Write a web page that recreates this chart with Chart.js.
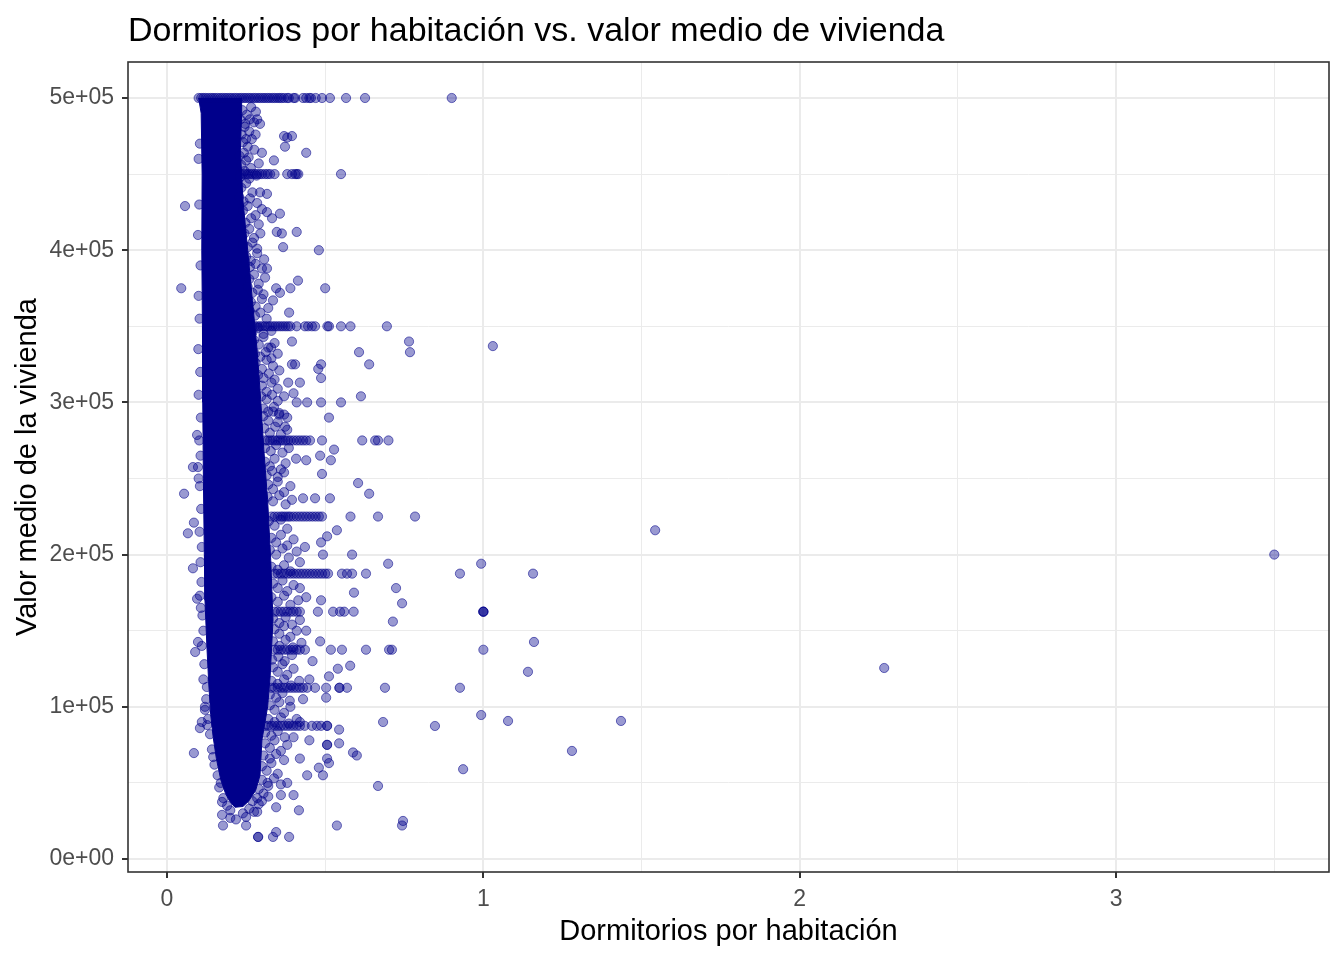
<!DOCTYPE html>
<html lang="es">
<head>
<meta charset="utf-8">
<title>Dormitorios por habitación vs. valor medio de vivienda</title>
<script src="https://cdn.jsdelivr.net/npm/chart.js@4.4.1/dist/chart.umd.min.js"></script>
<style>
  html, body { margin: 0; padding: 0; background: #fff; }
  canvas { display: block; }
</style>
</head>
<body>
<canvas id="chart" width="1344" height="960"></canvas>
<script>
// Axis ticks (major labelled, minor only gridlines)
const xTicks = [0, 1, 2, 3];
const xTickLabels = ['0', '1', '2', '3'];
const xGrid = [0, 0.5, 1, 1.5, 2, 2.5, 3, 3.5];
const yTicks = [0, 100000, 200000, 300000, 400000, 500000];
const yTickLabels = ['0e+00', '1e+05', '2e+05', '3e+05', '4e+05', '5e+05'];
const yGrid = [0, 50000, 100000, 150000, 200000, 250000, 300000, 350000, 400000, 450000, 500000];

// Outline of the saturated core of the cloud (points overlap into solid navy there)
const coreX = [0.100, 0.108, 0.111, 0.110, 0.112, 0.113, 0.115, 0.118, 0.120, 0.126, 0.132, 0.138, 0.146, 0.156, 0.170, 0.185, 0.198, 0.215,
               0.240, 0.258, 0.280, 0.294, 0.300, 0.318, 0.326, 0.335, 0.328, 0.318, 0.306, 0.296, 0.285, 0.270, 0.255, 0.240, 0.232, 0.236, 0.236];
const coreY = [500000, 490000, 450000, 400000, 350000, 300000, 250000, 200000, 170000, 140000, 115000, 95000, 80000, 66000, 52000, 43000, 38000, 34000,
               34500, 38000, 45000, 55000, 78000, 100000, 120000, 157000, 196000, 236000, 269000, 302000, 334000, 367000, 400000, 433000, 466000, 490000, 500000];

// Capped values at 500000
const capX = [0.100, 0.108, 0.115, 0.122, 0.130, 0.138, 0.145, 0.152, 0.160, 0.168, 0.175, 0.183, 0.190, 0.198, 0.205, 0.213, 0.220, 0.228,
              0.235, 0.243, 0.250, 0.258, 0.265, 0.273, 0.280, 0.288, 0.295, 0.303, 0.310, 0.318, 0.325, 0.333, 0.340, 0.348, 0.355, 0.362,
              0.370, 0.380, 0.385, 0.400, 0.405, 0.430, 0.440, 0.450, 0.455, 0.470, 0.490, 0.515, 0.566, 0.626, 0.900];

// Rows of repeated round values
const stripLevels = [450000, 350000, 275000, 225000, 187500, 162500, 137500, 112500, 87500];
const stripX = [
  [0.232, 0.240, 0.248, 0.255, 0.262, 0.270, 0.278, 0.285, 0.293, 0.300, 0.310, 0.318, 0.326, 0.340, 0.380, 0.395, 0.405, 0.410, 0.415, 0.550],
  [0.270, 0.278, 0.286, 0.294, 0.302, 0.310, 0.318, 0.326, 0.334, 0.342, 0.350, 0.358, 0.366, 0.374, 0.382, 0.390, 0.410, 0.436, 0.446, 0.458, 0.468, 0.507, 0.512, 0.550, 0.580, 0.695],
  [0.310, 0.318, 0.326, 0.334, 0.342, 0.350, 0.358, 0.366, 0.374, 0.382, 0.390, 0.400, 0.410, 0.420, 0.430, 0.440, 0.452, 0.490, 0.617, 0.658, 0.667, 0.700],
  [0.330, 0.340, 0.350, 0.360, 0.367, 0.375, 0.383, 0.390, 0.400, 0.410, 0.420, 0.430, 0.440, 0.450, 0.460, 0.470, 0.480, 0.490, 0.580, 0.667, 0.784],
  [0.340, 0.350, 0.360, 0.370, 0.380, 0.390, 0.400, 0.410, 0.420, 0.430, 0.440, 0.450, 0.460, 0.470, 0.480, 0.490, 0.500, 0.509, 0.553, 0.569, 0.585, 0.629, 0.926, 1.157],
  [0.340, 0.350, 0.360, 0.370, 0.380, 0.390, 0.400, 0.410, 0.420, 0.477, 0.525, 0.547, 0.560, 0.590, 1.000, 1.000, 1.000],
  [0.340, 0.350, 0.360, 0.370, 0.380, 0.390, 0.400, 0.410, 0.420, 0.436, 0.518, 0.553, 0.629, 0.702, 0.711, 1.000],
  [0.330, 0.340, 0.350, 0.360, 0.370, 0.380, 0.390, 0.400, 0.410, 0.420, 0.430, 0.443, 0.468, 0.503, 0.545, 0.545, 0.569, 0.689, 0.926],
  [0.310, 0.320, 0.330, 0.340, 0.350, 0.360, 0.370, 0.380, 0.390, 0.400, 0.410, 0.420, 0.435, 0.458, 0.474, 0.487, 0.506, 0.506]
];

// Ragged fringe right and left of the core
const fringe = [
  [0.245, 481000], [0.260, 478000], [0.275, 484000], [0.240, 471000], [0.255, 468000], [0.268, 473000],
  [0.235, 456000], [0.250, 459000], [0.265, 454000], [0.290, 457000], [0.235, 441000], [0.250, 444000], [0.270, 438000],
  [0.240, 426000], [0.255, 429000], [0.280, 423000], [0.300, 427000], [0.245, 411000], [0.260, 414000], [0.275, 408000], [0.295, 411000],
  [0.250, 396000], [0.265, 393000], [0.285, 398000], [0.260, 381000], [0.275, 384000], [0.290, 378000], [0.310, 382000],
  [0.265, 366000], [0.280, 363000], [0.300, 368000], [0.320, 362000], [0.275, 341000], [0.290, 338000], [0.305, 343000], [0.320, 336000], [0.340, 339000],
  [0.280, 326000], [0.300, 322000], [0.315, 328000], [0.335, 324000], [0.355, 321000], [0.300, 311000], [0.315, 307000], [0.330, 313000], [0.350, 309000],
  [0.305, 291000], [0.320, 288000], [0.335, 294000], [0.350, 287000], [0.370, 292000], [0.310, 261000], [0.325, 258000], [0.340, 263000], [0.360, 256000], [0.375, 260000],
  [0.320, 246000], [0.335, 243000], [0.350, 248000], [0.370, 241000], [0.390, 245000], [0.330, 211000], [0.345, 208000], [0.360, 213000], [0.380, 206000], [0.400, 210000],
  [0.335, 181000], [0.350, 178000], [0.365, 183000], [0.380, 176000], [0.400, 180000], [0.340, 151000], [0.355, 148000], [0.370, 153000], [0.390, 146000], [0.410, 150000],
  [0.335, 126000], [0.350, 123000], [0.365, 128000], [0.380, 121000], [0.400, 125000], [0.325, 101000], [0.340, 98000], [0.355, 103000], [0.370, 96000], [0.390, 100000],
  [0.310, 76000], [0.325, 73000], [0.340, 78000], [0.360, 71000], [0.380, 75000], [0.300, 61000], [0.315, 58000], [0.330, 63000], [0.350, 56000],
  [0.290, 46000], [0.305, 43000], [0.320, 48000], [0.270, 38000], [0.290, 36000],
  [0.238, 492000], [0.252, 489000], [0.266, 494000], [0.281, 491000], [0.232, 486000], [0.247, 483000], [0.262, 486000], [0.236, 476000], [0.250, 473000], [0.280, 476000],
  [0.229, 462000], [0.243, 464000], [0.258, 461000], [0.276, 466000], [0.231, 448000], [0.245, 452000], [0.260, 447000], [0.283, 449000],
  [0.228, 435000], [0.242, 432000], [0.262, 434000], [0.285, 431000], [0.232, 420000], [0.248, 418000], [0.266, 421000], [0.290, 417000],
  [0.240, 404000], [0.255, 402000], [0.270, 405000], [0.285, 401000], [0.248, 392000], [0.262, 389000], [0.280, 391000], [0.300, 388000],
  [0.255, 376000], [0.270, 372000], [0.287, 374000], [0.305, 371000], [0.262, 360000], [0.278, 357000], [0.295, 359000], [0.315, 355000],
  [0.270, 346000], [0.288, 349000], [0.305, 345000], [0.330, 347000], [0.278, 332000], [0.295, 330000], [0.312, 333000], [0.330, 329000], [0.350, 332000],
  [0.288, 318000], [0.305, 316000], [0.322, 319000], [0.340, 315000], [0.298, 304000], [0.315, 302000], [0.332, 305000], [0.350, 301000], [0.370, 304000],
  [0.305, 296000], [0.320, 294000], [0.338, 297000], [0.355, 293000], [0.308, 283000], [0.325, 280000], [0.342, 284000], [0.360, 279000], [0.380, 282000],
  [0.310, 270000], [0.328, 268000], [0.345, 272000], [0.365, 267000], [0.385, 270000], [0.315, 252000], [0.332, 255000], [0.350, 251000], [0.370, 254000],
  [0.318, 238000], [0.335, 235000], [0.355, 239000], [0.375, 233000], [0.395, 236000], [0.322, 222000], [0.340, 219000], [0.360, 223000], [0.380, 217000],
  [0.325, 203000], [0.345, 200000], [0.365, 204000], [0.385, 198000], [0.410, 202000], [0.330, 192000], [0.350, 190000], [0.370, 193000], [0.390, 189000],
  [0.330, 172000], [0.350, 169000], [0.370, 173000], [0.390, 167000], [0.415, 170000], [0.335, 158000], [0.355, 155000], [0.375, 159000], [0.395, 154000], [0.420, 157000],
  [0.335, 143000], [0.355, 140000], [0.375, 144000], [0.398, 139000], [0.425, 142000], [0.332, 131000], [0.352, 133000], [0.372, 130000], [0.395, 134000],
  [0.330, 117000], [0.350, 115000], [0.370, 118000], [0.392, 114000], [0.418, 117000], [0.325, 108000], [0.345, 106000], [0.365, 109000], [0.388, 104000],
  [0.320, 92000], [0.340, 90000], [0.360, 93000], [0.385, 89000], [0.410, 92000], [0.310, 83000], [0.330, 81000], [0.350, 84000], [0.372, 80000],
  [0.305, 68000], [0.325, 66000], [0.345, 69000], [0.370, 65000], [0.300, 52000], [0.318, 50000], [0.338, 53000], [0.360, 49000],
  [0.285, 40000], [0.300, 38000], [0.320, 41000], [0.260, 33000], [0.275, 31000], [0.240, 30000], [0.200, 32000], [0.190, 35000],
  [0.104, 470000], [0.102, 430000], [0.106, 390000], [0.103, 355000], [0.105, 320000], [0.107, 290000], [0.106, 265000], [0.108, 230000],
  [0.110, 205000], [0.109, 182000], [0.112, 160000], [0.115, 150000], [0.118, 128000], [0.124, 105000], [0.130, 92000], [0.136, 82000],
  [0.142, 72000], [0.150, 62000], [0.160, 55000], [0.165, 47000], [0.178, 40000],
  [0.100, 460000], [0.098, 410000], [0.100, 370000], [0.099, 335000], [0.100, 305000], [0.102, 275000], [0.104, 245000], [0.103, 215000],
  [0.106, 195000], [0.107, 165000], [0.110, 140000], [0.115, 118000], [0.120, 100000], [0.127, 88000]
];

// Scattered points away from the core
const outliers = [
  [0.370, 475000], [0.380, 474000], [0.395, 475000], [0.373, 468000], [0.440, 464000], [0.338, 459000], [0.300, 464000], [0.285, 486000], [0.294, 483000],
  [0.316, 437000], [0.294, 438000], [0.316, 425000], [0.357, 424000], [0.332, 421000], [0.410, 412000], [0.347, 412000], [0.363, 411000], [0.367, 402000],
  [0.480, 400000], [0.307, 394000], [0.316, 388000], [0.345, 375000], [0.390, 375000], [0.414, 380000], [0.500, 375000], [0.357, 372000], [0.335, 367000],
  [0.386, 359000], [0.329, 336000], [0.395, 340000], [0.765, 340000], [0.768, 333000], [1.030, 337000], [0.607, 333000], [0.639, 325000], [0.487, 325000],
  [0.478, 322000], [0.405, 325000], [0.395, 325000], [0.487, 316000], [0.383, 313000], [0.420, 313000], [0.400, 306000], [0.613, 304000], [0.410, 300000],
  [0.443, 300000], [0.487, 300000], [0.550, 300000], [0.512, 290000], [0.380, 290000], [0.373, 284000], [0.354, 292000], [0.528, 269000], [0.484, 265000],
  [0.518, 262000], [0.440, 262000], [0.408, 263000], [0.490, 253000], [0.604, 247000], [0.639, 240000], [0.515, 237000], [0.468, 237000], [0.430, 237000],
  [1.543, 216000], [0.537, 216000], [0.506, 212000], [0.487, 208000], [0.436, 205000], [0.585, 200000], [0.493, 200000], [0.699, 194000], [0.993, 194000],
  [0.420, 195000], [0.724, 178000], [0.591, 175000], [0.743, 168000], [0.487, 170000], [0.420, 178000], [0.440, 172000], [0.714, 156000], [1.160, 142600],
  [1.141, 123000], [0.579, 127000], [0.540, 125000], [0.512, 120000], [0.484, 143000], [0.440, 150000], [0.460, 130000], [0.503, 106000], [0.430, 105000],
  [0.450, 118000], [0.993, 94600], [1.078, 90700], [1.435, 90700], [0.847, 87400], [0.683, 90000], [1.280, 71000], [0.936, 59000], [0.667, 48000],
  [0.746, 25000], [0.743, 22000], [0.537, 22000], [0.544, 85000], [0.544, 76000], [0.506, 75000], [0.506, 75000], [0.588, 70000], [0.600, 68000],
  [0.506, 66000], [0.512, 63000], [0.480, 60000], [0.493, 55000], [0.420, 66000], [0.443, 55000], [0.400, 42000], [0.417, 32000], [0.345, 34000],
  [0.285, 31000], [0.288, 14500], [0.288, 14500], [0.335, 14500], [0.345, 17700], [0.386, 14500], [0.177, 22000], [0.250, 22000], [0.174, 29000],
  [0.200, 27000], [0.218, 26000], [0.250, 27600], [0.174, 37500], [0.400, 80000], [0.420, 90000], [0.450, 78000], [0.380, 50000], [0.360, 42000],
  [0.085, 69600], [0.104, 86000], [0.110, 90000], [0.089, 136000], [0.098, 142600], [0.126, 113000], [0.120, 98000], [0.146, 67000], [0.170, 50000],
  [0.057, 429000], [0.045, 375000], [0.095, 278600], [0.082, 257500], [0.098, 257500], [0.100, 250000], [0.054, 240000], [0.085, 221000], [0.066, 214000],
  [0.082, 191000], [0.095, 171000], [0.104, 173000], [2.267, 125500], [3.500, 200000]
];

const FONT = '"Liberation Sans", Arial, sans-serif';
const NAVY = '#00008B';

const corePoints = coreX.map((x, i) => ({ x: x, y: coreY[i] }));
const points = [];
capX.forEach(x => points.push({ x: x, y: 500000 }));
stripLevels.forEach((lvl, i) => stripX[i].forEach(x => points.push({ x: x, y: lvl })));
fringe.forEach(p => points.push({ x: p[0], y: p[1] }));
outliers.forEach(p => points.push({ x: p[0], y: p[1] }));

// panel border drawn on top, like theme_bw
const panelBorder = {
  id: 'panelBorder',
  afterDraw(chart) {
    const { ctx, chartArea: a } = chart;
    ctx.save();
    ctx.strokeStyle = '#333333';
    ctx.lineWidth = 1.6;
    ctx.strokeRect(a.left, a.top, a.right - a.left, a.bottom - a.top);
    ctx.restore();
  }
};

const gridOpts = (majors) => ({
  color: '#EBEBEB',
  lineWidth: c => (c.tick && majors.includes(c.tick.value)) ? 2 : 1,
  tickColor: c => (c.tick && majors.includes(c.tick.value)) ? '#333333' : 'rgba(0,0,0,0)',
  tickLength: 6,
  tickWidth: 2
});

new Chart(document.getElementById('chart').getContext('2d'), {
  type: 'scatter',
  data: {
    datasets: [
      {
        type: 'line',
        label: 'core',
        data: corePoints,
        fill: 'shape',
        backgroundColor: NAVY,
        borderColor: NAVY,
        borderWidth: 1,
        pointRadius: 0,
        tension: 0,
        order: 3
      },
      {
        label: 'Dormitorios por habitación',
        data: points,
        backgroundColor: 'rgba(0, 0, 139, 0.4)',
        borderColor: 'rgba(0, 0, 139, 0.55)',
        borderWidth: 1,
        pointRadius: 4.6,
        order: 1
      }
    ]
  },
  options: {
    responsive: false,
    devicePixelRatio: 1,
    animation: false,
    layout: { padding: { left: 0, right: 15, top: 0, bottom: 0 } },
    plugins: {
      legend: { display: false },
      tooltip: { enabled: false },
      title: {
        display: true,
        text: 'Dormitorios por habitación vs. valor medio de vivienda',
        align: 'start',
        fullSize: false,
        color: '#000',
        font: { family: FONT, size: 34, weight: 'normal' },
        padding: { top: 11.35, bottom: 9.85 }
      }
    },
    scales: {
      x: {
        type: 'linear',
        min: -0.1233,
        max: 3.673,
        afterBuildTicks: s => { s.ticks = xGrid.map(v => ({ value: v })); },
        afterFit: s => { s.height = 88; },
        ticks: {
          autoSkip: false,
          maxRotation: 0,
          padding: 8,
          color: '#4D4D4D',
          font: { family: FONT, size: 23 },
          callback: v => { const i = xTicks.indexOf(v); return i >= 0 ? xTickLabels[i] : ''; }
        },
        grid: gridOpts(xTicks),
        border: { display: false },
        title: {
          display: true,
          text: 'Dormitorios por habitación',
          color: '#000',
          font: { family: FONT, size: 29 },
          padding: { top: 0, bottom: 10.6 }
        }
      },
      y: {
        type: 'linear',
        min: -8540,
        max: 523650,
        afterBuildTicks: s => { s.ticks = yGrid.map(v => ({ value: v })); },
        afterFit: s => { s.width = 128; },
        ticks: {
          autoSkip: false,
          padding: 8,
          color: '#4D4D4D',
          font: { family: FONT, size: 23 },
          callback: v => { const i = yTicks.indexOf(v); return i >= 0 ? yTickLabels[i] : ''; }
        },
        grid: gridOpts(yTicks),
        border: { display: false },
        title: {
          display: true,
          text: 'Valor medio de la vivienda',
          color: '#000',
          font: { family: FONT, size: 29 },
          padding: { top: 11, bottom: 0 }
        }
      }
    }
  },
  plugins: [panelBorder]
});
</script>
</body>
</html>
